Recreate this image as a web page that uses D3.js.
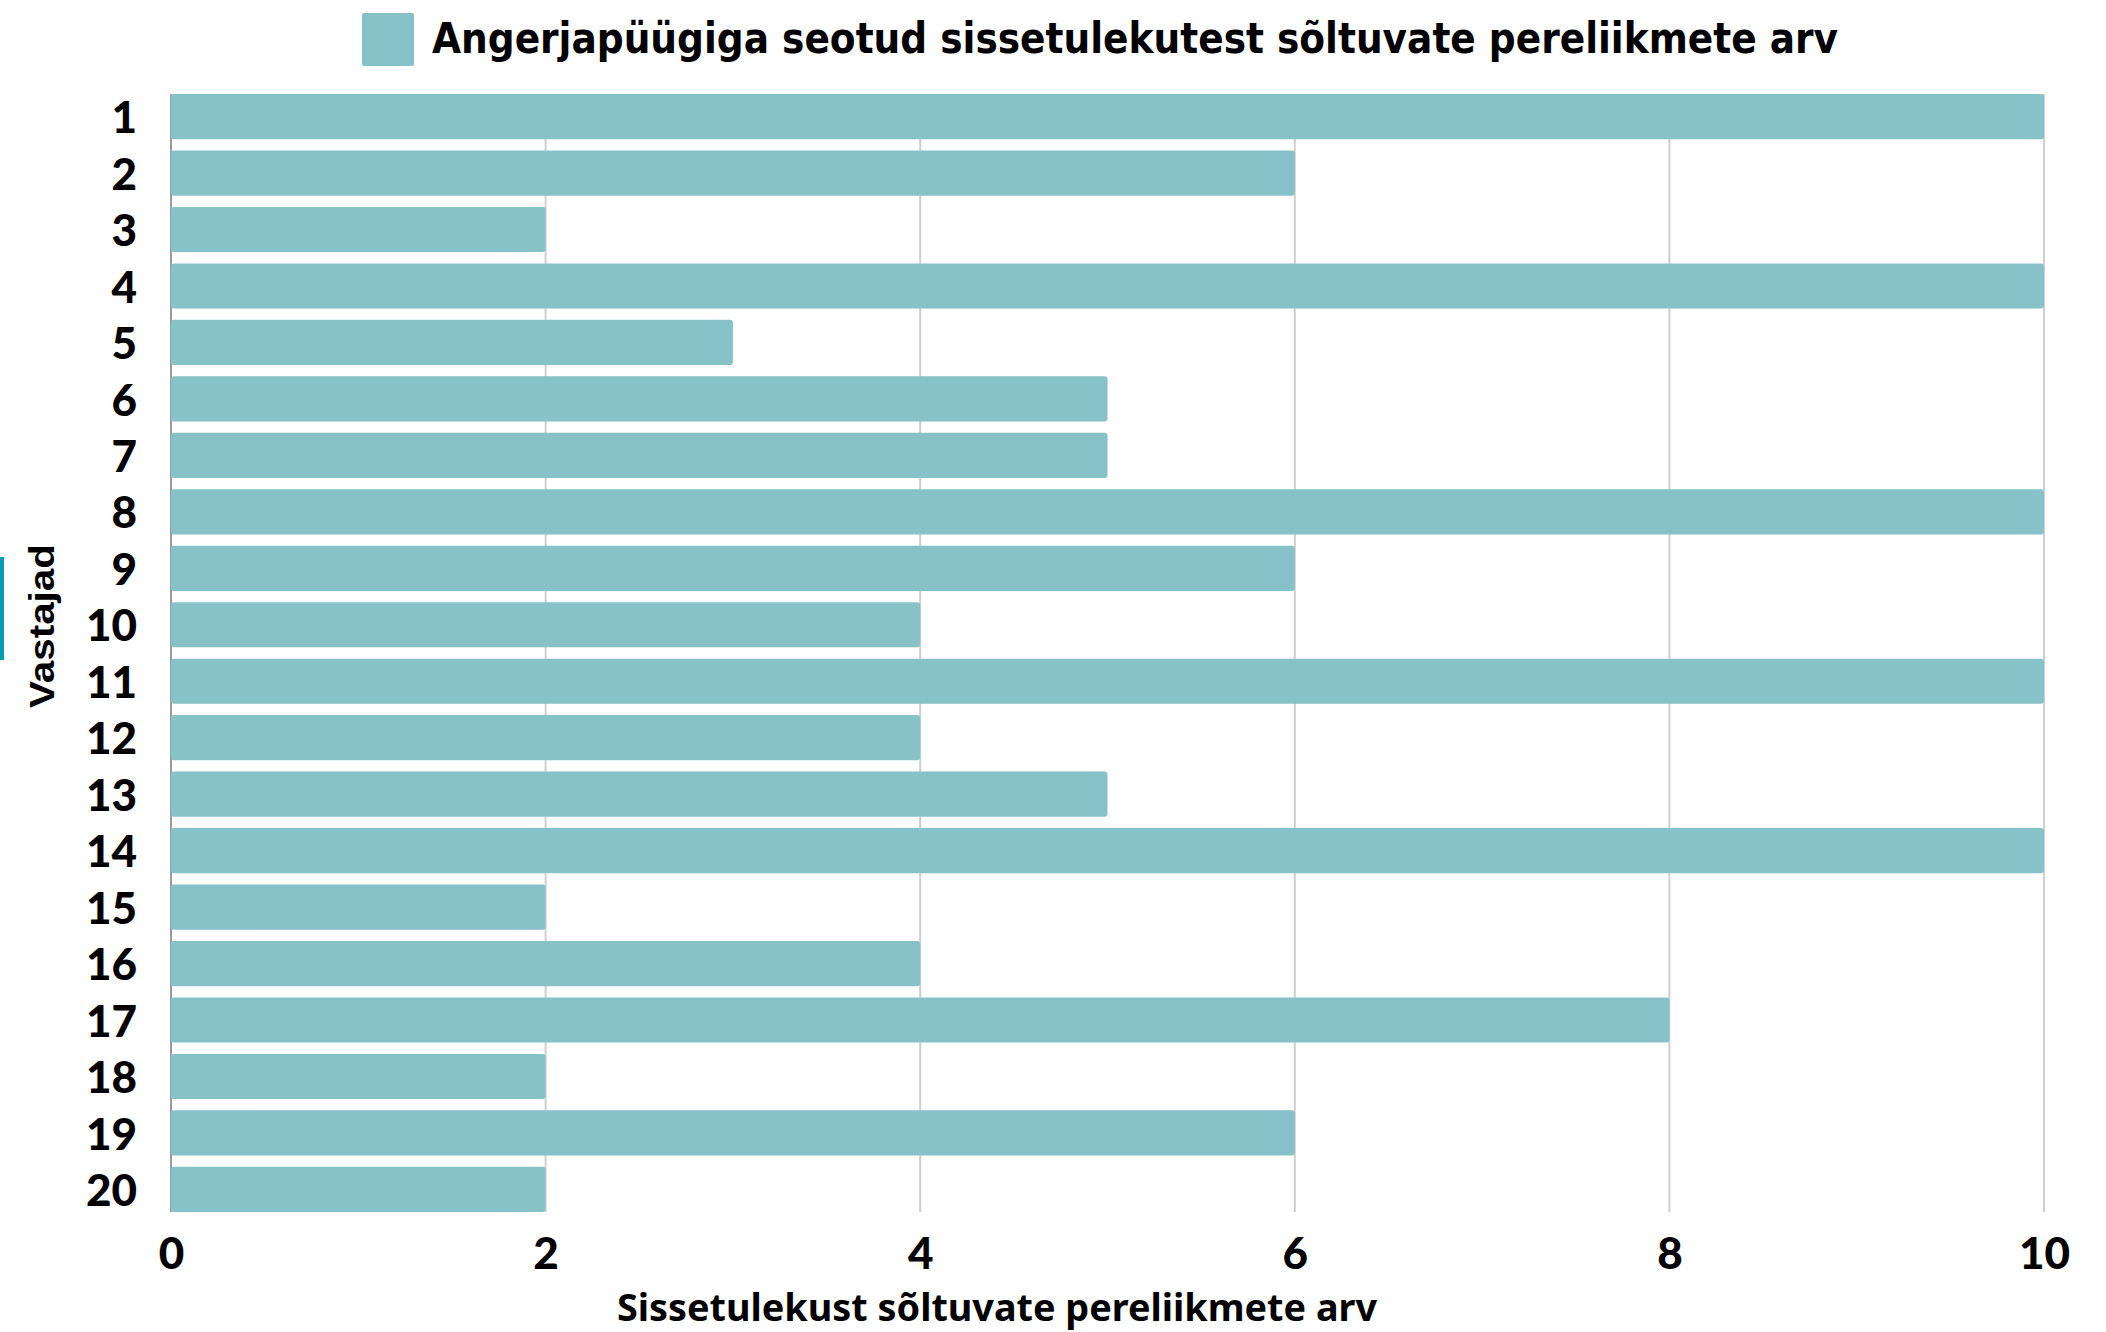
<!DOCTYPE html>
<html>
<head>
<meta charset="utf-8">
<script src="https://cdn.jsdelivr.net/npm/d3@7"></script>
<style>
  body { margin: 0; background: #ffffff; }
  #chart svg { display: block; }
</style>
</head>
<body>
<div id="chart"></div>
<script>
// DATA //

const respondents = ["1", "2", "3", "4", "5", "6", "7", "8", "9", "10",
  "11", "12", "13", "14", "15", "16", "17", "18", "19", "20"];
const dependents = [10, 6, 2, 10, 3, 5, 5, 10, 6, 4, 10, 4, 5, 10, 2, 4, 8, 2, 6, 2];
const xTicks = [0, 2, 4, 6, 8, 10];

const legendLabel = "Angerjapüügiga seotud sissetulekutest sõltuvate pereliikmete arv";
const xTitle = "Sissetulekust sõltuvate pereliikmete arv";
const yTitle = "Vastajad";

const data = respondents.map((r, i) => ({ respondent: r, value: dependents[i] }));

// DIMENSIONS //

const dimensions = {
  width: 2106,
  height: 1332,
  margin: { top: 94, left: 171, right: 62, bottom: 120 },
};
dimensions.boundedWidth =
  dimensions.width - dimensions.margin.left - dimensions.margin.right;
dimensions.boundedHeight =
  dimensions.height - dimensions.margin.top - dimensions.margin.bottom;

const barColor = "#87c2c8";
const labelFont = "Lato, 'Noto Sans', sans-serif";

// SCALES //

const x = d3.scaleLinear().domain([0, 10]).range([0, dimensions.boundedWidth]);
const y = d3
  .scaleBand()
  .domain(respondents)
  .range([0, dimensions.boundedHeight])
  .paddingInner(0.2)
  .paddingOuter(0);

// DRAW //

const svg = d3
  .select("#chart")
  .append("svg")
  .attr("width", dimensions.width)
  .attr("height", dimensions.height);

svg
  .append("rect")
  .attr("width", dimensions.width)
  .attr("height", dimensions.height)
  .attr("fill", "#ffffff");

const bounds = svg
  .append("g")
  .attr("transform", `translate(${dimensions.margin.left},${dimensions.margin.top})`);

// Vertical gridlines
bounds
  .append("g")
  .selectAll("line")
  .data(xTicks.filter((d) => d > 0))
  .join("line")
  .attr("x1", (d) => x(d))
  .attr("x2", (d) => x(d))
  .attr("y1", 0)
  .attr("y2", dimensions.boundedHeight)
  .attr("stroke", "#cfcfcf")
  .attr("stroke-width", 2);

// Category axis line
bounds
  .append("line")
  .attr("x1", 0)
  .attr("x2", 0)
  .attr("y1", 0)
  .attr("y2", dimensions.boundedHeight)
  .attr("stroke", "#7a7a7a")
  .attr("stroke-width", 1.5);

// Bars
bounds
  .append("g")
  .selectAll("rect")
  .data(data)
  .join("rect")
  .attr("x", x(0))
  .attr("y", (d) => y(d.respondent))
  .attr("width", (d) => x(d.value) - x(0))
  .attr("height", y.bandwidth())
  .attr("rx", 3)
  .attr("fill", barColor);

// Y axis (respondent labels)
const yAxis = bounds
  .append("g")
  .attr("transform", "translate(0,2.5)")
  .call(d3.axisLeft(y).tickSize(0).tickPadding(34));
yAxis.select(".domain").remove();
yAxis
  .selectAll("text")
  .attr("font-family", labelFont)
  .attr("font-weight", 900)
  .attr("font-size", 44)
  .attr("fill", "#000");

// X axis (tick labels)
const xAxis = bounds
  .append("g")
  .attr("transform", `translate(0,${dimensions.boundedHeight})`)
  .call(d3.axisBottom(x).tickValues(xTicks).tickSize(0).tickPadding(26));
xAxis.select(".domain").remove();
xAxis
  .selectAll("text")
  .attr("font-family", labelFont)
  .attr("font-weight", 900)
  .attr("font-size", 44)
  .attr("fill", "#000");

// Axis titles
svg
  .append("text")
  .attr("x", 997)
  .attr("y", 1321)
  .attr("text-anchor", "middle")
  .attr("font-family", "'Noto Sans', 'Open Sans', sans-serif")
  .attr("font-weight", 700)
  .attr("font-size", 37)
  .attr("textLength", 760)
  .attr("lengthAdjust", "spacingAndGlyphs")
  .text(xTitle);

svg
  .append("text")
  .attr("transform", "translate(54,626) rotate(-90)")
  .attr("text-anchor", "middle")
  .attr("font-family", "'Liberation Sans', Arial, sans-serif")
  .attr("font-weight", 700)
  .attr("font-size", 35)
  .attr("textLength", 164)
  .attr("lengthAdjust", "spacingAndGlyphs")
  .text(yTitle);

// Selection marker at left edge
svg
  .append("rect")
  .attr("x", 0)
  .attr("y", 557)
  .attr("width", 4)
  .attr("height", 103)
  .attr("fill", "#0a9cb5");

// Legend
const legend = svg.append("g");
legend
  .append("rect")
  .attr("x", 362)
  .attr("y", 13)
  .attr("width", 52)
  .attr("height", 53)
  .attr("rx", 2)
  .attr("fill", barColor);
legend
  .append("text")
  .attr("x", 432)
  .attr("y", 53)
  .attr("font-family", "'Liberation Sans Narrow', 'DejaVu Sans Condensed', sans-serif")
  .attr("font-weight", 700)
  .attr("font-size", 42)
  .attr("textLength", 1406)
  .attr("lengthAdjust", "spacingAndGlyphs")
  .text(legendLabel);
</script>
</body>
</html>
